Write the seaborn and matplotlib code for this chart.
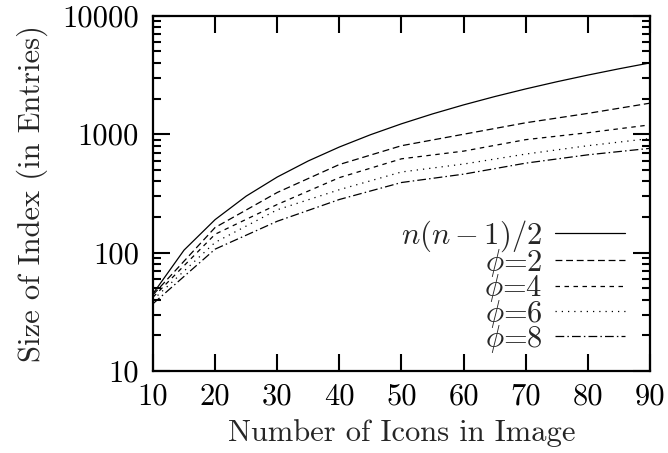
import numpy as np
import pandas as pd
import matplotlib
matplotlib.use("Agg")
import matplotlib.pyplot as plt
import matplotlib.ticker as mticker
import seaborn as sns

# -------------------------------
# Data
# -------------------------------
icons = [10, 20, 30, 40, 50, 60, 70, 80, 90]
# the n(n-1)/2 curve is drawn smooth, so it is read at finer steps
icons_fine = [10, 15, 20, 25, 30, 35, 40, 45, 50, 55, 60, 65, 70, 75, 80, 85, 90]
full_pairs = [45, 105, 190, 300, 435, 595, 780, 990, 1225, 1485, 1770, 2080,
              2415, 2775, 3160, 3570, 4005]
phi_2 = [44, 163, 322, 555, 800, 1000, 1250, 1500, 1830]
phi_4 = [42, 143, 255, 430, 620, 720, 900, 1030, 1200]
phi_6 = [40, 122, 230, 340, 480, 560, 680, 800, 920]
phi_8 = [37, 107, 184, 281, 391, 460, 570, 670, 760]

series_labels = [r"$n(n-1)/2$", r"$\phi$=2", r"$\phi$=4", r"$\phi$=6", r"$\phi$=8"]
series_x = [icons_fine, icons, icons, icons, icons]
series_values = [full_pairs, phi_2, phi_4, phi_6, phi_8]
series_dashes = [None, (5.5, 3.0), (3.6, 3.6), (1.0, 4.0), (7.0, 2.5, 1.2, 2.5)]

frames = []
for lab, xs, vals in zip(series_labels, series_x, series_values):
    frames.append(pd.DataFrame({"icons": xs, "size": vals, "series": lab}))
long_df = pd.concat(frames, ignore_index=True)

# -------------------------------
# Style
# -------------------------------
sns.set_style("ticks")
plt.rcParams["font.family"] = ["cmr10"]
plt.rcParams["mathtext.fontset"] = "cm"
plt.rcParams["axes.formatter.use_mathtext"] = True
plt.rcParams["axes.unicode_minus"] = False

fig = plt.figure(figsize=(6.68, 4.53), dpi=100)
ax = fig.add_axes([0.229, 0.181, 0.744, 0.784])

# -------------------------------
# Lines
# -------------------------------
for lab, dash in zip(series_labels, series_dashes):
    sub = long_df[long_df["series"] == lab]
    sns.lineplot(data=sub, x="icons", y="size", ax=ax, color="black",
                 linewidth=0.9, label=lab)
    if dash is not None:
        ax.lines[-1].set_dashes(dash)

ax.set_yscale("log")
ax.set_xlim(10, 90)
ax.set_ylim(10, 10000)

ax.set_xticks(icons)
ax.set_xticklabels([str(v) for v in icons])
ax.set_yticks([10, 100, 1000, 10000])
ax.set_yticklabels(["10", "100", "1000", "10000"])
ax.yaxis.set_minor_locator(mticker.LogLocator(base=10, subs=np.arange(2, 10)))
ax.yaxis.set_minor_formatter(mticker.NullFormatter())

ax.tick_params(which="both", direction="in", top=True, right=True,
               labelsize=22, width=1.5, colors="black")
ax.tick_params(which="major", length=12)
ax.tick_params(axis="x", which="major", pad=9)
ax.tick_params(axis="y", which="major", pad=10)
ax.tick_params(which="minor", length=6)
for sp in ax.spines.values():
    sp.set_linewidth(1.6)
    sp.set_color("black")

ax.set_xlabel("Number of Icons in Image", fontsize=22, labelpad=6)
ax.set_ylabel("Size of Index (in Entries)", fontsize=22, labelpad=10)

leg = ax.legend(loc="lower right", bbox_to_anchor=(0.95, 0.045), frameon=False,
                markerfirst=False, fontsize=22, handlelength=2.3,
                handletextpad=0.4, labelspacing=-0.22, borderpad=0,
                borderaxespad=0)
for t in leg.get_texts():
    t.set_ha("right")

fig.savefig("out.png", dpi=100)
